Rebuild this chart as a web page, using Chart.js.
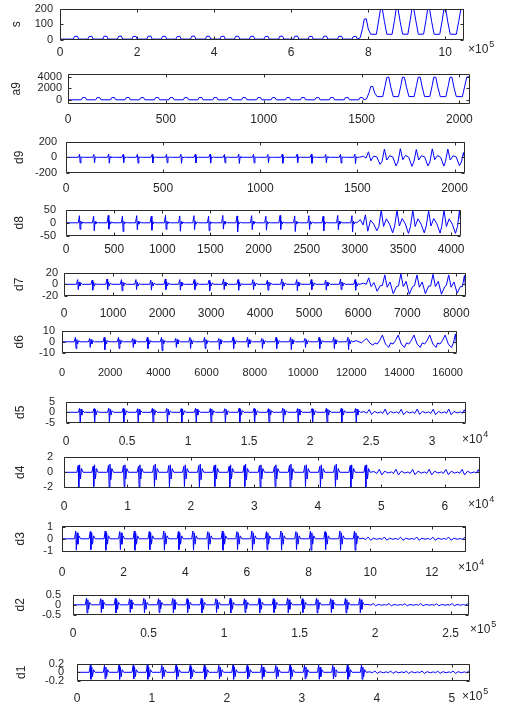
<!DOCTYPE html>
<html><head><meta charset="utf-8">
<script src="https://cdn.jsdelivr.net/npm/chart.js@4.4.1/dist/chart.umd.min.js"></script>
<style>
html,body{margin:0;padding:0;background:#fff;width:506px;height:711px;overflow:hidden}
#wrap{position:relative;width:506px;height:711px}
canvas{position:absolute;left:0}
</style></head><body><div id="wrap"></div>
<script>
// ---------- DATA (normalised time of key points) ----------
const tApprox = [0,
0.033,0.036,0.043,0.046, 0.069,0.072,0.079,0.082, 0.106,0.109,0.116,0.119, 0.142,0.145,0.152,0.155,
0.178,0.181,0.188,0.191, 0.215,0.218,0.225,0.228, 0.251,0.254,0.261,0.264, 0.287,0.290,0.297,0.300,
0.323,0.326,0.333,0.336, 0.360,0.363,0.370,0.373, 0.396,0.399,0.406,0.409, 0.432,0.435,0.442,0.445,
0.469,0.472,0.479,0.482, 0.505,0.508,0.515,0.518, 0.541,0.544,0.551,0.554, 0.578,0.581,0.588,0.591,
0.614,0.617,0.624,0.627, 0.650,0.653,0.660,0.663, 0.687,0.690,0.697,0.700, 0.723,0.726,0.733,0.736,
0.743,0.749,0.753,0.758,0.763,0.769,
0.783,0.789,0.793,0.798,0.803,0.809,
0.822,0.828,0.832,0.837,0.842,0.848,
0.861,0.867,0.871,0.876,0.881,0.887,
0.900,0.906,0.910,0.915,0.920,0.926,
0.940,0.946,0.950,0.955,0.960,0.966,
0.981,0.987,0.992,1.0];

const sY = [3,
3,21,22,3, 3,20,22,3, 3,22,21,3, 3,21,23,3, 3,20,21,3, 3,22,22,3, 3,21,22,3, 3,20,21,3,
3,22,23,3, 3,21,22,3, 3,20,22,3, 3,22,21,3, 3,21,22,3, 3,20,21,3, 3,22,22,3, 3,21,23,3,
3,20,21,3, 3,22,22,3, 3,21,22,3, 3,20,21,3,
12,75,135,138,70,35,
35,130,198,200,120,35,
35,128,200,199,118,36,
35,132,199,200,122,35,
36,130,200,198,118,35,
35,126,196,198,115,35,
35,120,198,200];

const a9Y = [60,
60,430,440,60, 60,420,440,60, 60,440,430,60, 60,430,450,60, 60,420,430,60, 60,440,440,60, 60,430,440,60, 60,420,430,60,
60,440,450,60, 60,430,440,60, 60,420,440,60, 60,440,430,60, 60,430,440,60, 60,420,430,60, 60,440,440,60, 60,430,450,60,
60,420,430,60, 60,440,440,60, 60,430,440,60, 60,420,430,60,
250,1300,2300,2350,1200,600,
600,2500,3850,3900,2200,600,
600,2450,3900,3850,2200,620,
600,2500,3880,3900,2250,600,
620,2480,3900,3870,2200,600,
600,2450,3850,3900,2200,600,
600,2400,3900,4000];

const tDetail = [0,
0.031,0.034,0.0355,0.0375,0.0395,0.042,0.046,
0.067,0.070,0.0715,0.0735,0.0755,0.078,0.082,
0.104,0.107,0.1085,0.1105,0.1125,0.115,0.119,
0.140,0.143,0.1445,0.1465,0.1485,0.151,0.155,
0.176,0.179,0.1805,0.1825,0.1845,0.187,0.191,
0.213,0.216,0.2175,0.2195,0.2215,0.224,0.228,
0.249,0.252,0.2535,0.2555,0.2575,0.260,0.264,
0.285,0.288,0.2895,0.2915,0.2935,0.296,0.300,
0.321,0.324,0.3255,0.3275,0.3295,0.332,0.336,
0.358,0.361,0.3625,0.3645,0.3665,0.369,0.373,
0.394,0.397,0.3985,0.4005,0.4025,0.405,0.409,
0.430,0.433,0.4345,0.4365,0.4385,0.441,0.445,
0.467,0.470,0.4715,0.4735,0.4755,0.478,0.482,
0.503,0.506,0.5075,0.5095,0.5115,0.514,0.518,
0.539,0.542,0.5435,0.5455,0.5475,0.550,0.554,
0.576,0.579,0.5805,0.5825,0.5845,0.587,0.591,
0.612,0.615,0.6165,0.6185,0.6205,0.623,0.627,
0.648,0.651,0.6525,0.6545,0.6565,0.659,0.663,
0.685,0.688,0.6895,0.6915,0.6935,0.696,0.700,
0.721,0.724,0.7255,0.7275,0.7295,0.732,0.736,
0.745,
0.752,0.758,0.764,0.771,0.779,0.787,
0.792,0.798,0.804,0.811,0.819,0.827,
0.832,0.838,0.844,0.851,0.859,0.867,
0.872,0.878,0.884,0.891,0.899,0.907,
0.912,0.918,0.924,0.931,0.939,0.947,
0.951,0.957,0.963,0.970,0.978,0.986,
0.991,0.996,1.0];

const d9Y = [0,
0,38,-72,8,-6,3,0, 0,36,-70,7,-5,3,0, 0,40,-75,8,-6,3,0, 0,35,-68,7,-5,2,0, 0,38,-74,8,-6,3,0,
0,37,-72,8,-5,3,0, 0,36,-70,7,-6,3,0, 0,39,-76,8,-6,3,0, 0,37,-71,7,-5,2,0, 0,38,-74,8,-6,3,0,
0,36,-70,7,-5,3,0, 0,40,-78,8,-6,3,0, 0,37,-72,8,-5,3,0, 0,36,-69,7,-6,2,0, 0,38,-75,8,-6,3,0,
0,37,-72,7,-5,3,0, 0,39,-76,8,-6,3,0, 0,36,-70,7,-5,3,0, 0,38,-73,8,-6,3,0, 0,40,-80,9,-7,3,0,
15,
-10,70,-45,15,5,-90,
-55,105,-35,20,5,-110,
-60,110,-30,25,0,-115,
-55,100,-35,20,5,-110,
-60,108,-30,22,0,-112,
-55,104,-35,20,5,-108,
-60,60,-40];

const d8Y = [0,
0,27,-25,6,-5,3,0, 0,25,-30,5,-4,2,0, 0,28,-24,6,-5,3,0, 0,26,-33,5,-4,2,0, 0,27,-26,6,-5,3,0,
0,25,-28,5,-4,2,0, 0,28,-25,6,-5,3,0, 0,26,-32,5,-4,2,0, 0,27,-26,6,-5,3,0, 0,25,-30,5,-4,2,0,
0,28,-24,6,-5,3,0, 0,26,-34,5,-4,2,0, 0,27,-26,6,-5,3,0, 0,25,-28,5,-4,2,0, 0,28,-25,6,-5,3,0,
0,26,-33,5,-4,2,0, 0,27,-26,6,-5,3,0, 0,25,-30,5,-4,2,0, 0,28,-26,6,-5,3,0, 0,27,-35,6,-5,3,0,
12,
-8,30,-32,10,-5,-30,
-15,48,-14,15,-5,-38,
-12,47,-12,16,-4,-40,
-15,49,-14,15,-5,-38,
-12,46,-12,16,-4,-39,
-15,48,-14,15,-5,-40,
-15,45,-10];

const d7Y = [0,
0,8,-9,4,-3,2,0, 0,7,-10,4,-3,1,0, 0,9,-9,4,-3,2,0, 0,8,-11,4,-3,2,0, 0,8,-9,4,-3,1,0,
0,7,-10,4,-3,2,0, 0,9,-9,4,-3,2,0, 0,8,-10,4,-3,1,0, 0,8,-9,4,-3,2,0, 0,7,-11,4,-3,2,0,
0,9,-9,4,-3,2,0, 0,8,-10,4,-3,1,0, 0,8,-9,4,-3,2,0, 0,7,-10,4,-3,2,0, 0,9,-9,4,-3,2,0,
0,8,-11,4,-3,1,0, 0,8,-9,4,-3,2,0, 0,7,-10,4,-3,2,0, 0,9,-9,4,-3,2,0, 0,8,-10,4,-3,1,0,
2,
0,11,-4,3,-12,-2,
-2,16,-5,4,-16,-4,
-3,18,-4,5,-17,-4,
-2,16,-5,4,-16,-3,
-3,17,-4,5,-17,-4,
-2,16,-5,4,-15,-4,
-4,15,-14];

const d6Y = [0,
0,4,-6,2,-2,1,0, 0,3,-5,2,-2,1,0, 0,4,-7,2,-2,1,0, 0,4,-6,2,-2,1,0, 0,3,-5,2,-2,1,0,
0,4,-6,2,-2,1,0, 0,4,-8,2,-2,1,0, 0,3,-5,2,-2,1,0, 0,4,-6,2,-2,1,0, 0,4,-6,2,-2,1,0,
0,3,-7,2,-2,1,0, 0,4,-6,2,-2,1,0, 0,4,-5,2,-2,1,0, 0,3,-6,2,-2,1,0, 0,4,-6,2,-2,1,0,
0,4,-7,2,-2,1,0, 0,3,-5,2,-2,1,0, 0,4,-6,2,-2,1,0, 0,4,-6,2,-2,1,0, 0,4,-7,2,-2,1,0,
1,
0,-1,1,3,-1,-3,
-1,-2,1,6,-2,-5,
-1,-2,1,6,-2,-5,
-1,-2,1,6,-2,-5,
-1,-2,1,6,-2,-5,
-1,-2,1,6,-2,-5,
-1,7,-8];

const d5Y = [0,
0,1.8,-5,1.5,-1.3,0.7,0, 0,1.7,-4.8,1.4,-1.2,0.7,0, 0,1.9,-5,1.5,-1.3,0.8,0, 0,1.8,-4.9,1.5,-1.3,0.7,0, 0,1.7,-5,1.4,-1.2,0.7,0,
0,1.9,-4.8,1.5,-1.3,0.8,0, 0,1.8,-5,1.5,-1.3,0.7,0, 0,1.7,-4.9,1.4,-1.2,0.7,0, 0,1.9,-5,1.5,-1.3,0.8,0, 0,1.8,-4.8,1.5,-1.3,0.7,0,
0,1.7,-5,1.4,-1.2,0.7,0, 0,1.9,-4.9,1.5,-1.3,0.8,0, 0,1.8,-5,1.5,-1.3,0.7,0, 0,1.7,-4.8,1.4,-1.2,0.7,0, 0,1.9,-5,1.5,-1.3,0.8,0,
0,1.8,-4.9,1.5,-1.3,0.7,0, 0,1.7,-5,1.4,-1.2,0.7,0, 0,1.9,-4.8,1.5,-1.3,0.8,0, 0,1.8,-5,1.5,-1.3,0.7,0, 0,1.8,-5,1.5,-1.3,0.7,0,
0.3,
-0.4,1.3,-1,0.4,-0.3,0.2,
-0.5,1.5,-1.1,0.4,-0.3,0.2,
-0.5,1.4,-1.1,0.4,-0.3,0.2,
-0.5,1.5,-1.0,0.4,-0.3,0.2,
-0.5,1.4,-1.1,0.4,-0.3,0.2,
-0.5,1.5,-1.1,0.4,-0.3,0.2,
-0.4,1.2,-0.8];

const d4Y = [0,
0,0.9,-2,1,-0.9,0.5,0, 0,0.8,-1.9,1,-0.9,0.5,0, 0,0.9,-2,1.1,-1,0.5,0, 0,0.9,-1.9,1,-0.9,0.5,0, 0,0.8,-2,1,-0.9,0.5,0,
0,0.9,-1.9,1.1,-1,0.5,0, 0,0.9,-2,1,-0.9,0.5,0, 0,0.8,-1.9,1,-0.9,0.5,0, 0,0.9,-2,1.1,-1,0.5,0, 0,0.9,-1.9,1,-0.9,0.5,0,
0,0.8,-2,1,-0.9,0.5,0, 0,0.9,-1.9,1.1,-1,0.5,0, 0,0.9,-2,1,-0.9,0.5,0, 0,0.8,-1.9,1,-0.9,0.5,0, 0,0.9,-2,1.1,-1,0.5,0,
0,0.9,-1.9,1,-0.9,0.5,0, 0,0.8,-2,1,-0.9,0.5,0, 0,0.9,-1.9,1.1,-1,0.5,0, 0,0.9,-2,1,-0.9,0.5,0, 0,0.9,-2,1,-0.9,0.5,0,
0.1,
-0.15,0.4,-0.35,0.15,-0.1,0.05,
-0.15,0.4,-0.35,0.15,-0.1,0.05,
-0.15,0.38,-0.33,0.15,-0.1,0.05,
-0.15,0.4,-0.35,0.15,-0.1,0.05,
-0.15,0.38,-0.33,0.15,-0.1,0.05,
-0.15,0.4,-0.35,0.15,-0.1,0.05,
-0.1,0.35,-0.2];

const d3Y = [0,
0,0.65,-0.95,0.5,-0.45,0.25,0, 0,0.6,-0.9,0.5,-0.45,0.25,0, 0,0.65,-0.95,0.5,-0.45,0.25,0, 0,0.6,-0.9,0.5,-0.45,0.25,0, 0,0.65,-0.95,0.5,-0.45,0.25,0,
0,0.6,-0.9,0.5,-0.45,0.25,0, 0,0.65,-0.95,0.5,-0.45,0.25,0, 0,0.6,-0.9,0.5,-0.45,0.25,0, 0,0.65,-0.95,0.5,-0.45,0.25,0, 0,0.6,-0.9,0.5,-0.45,0.25,0,
0,0.65,-0.95,0.5,-0.45,0.25,0, 0,0.6,-0.9,0.5,-0.45,0.25,0, 0,0.65,-0.95,0.5,-0.45,0.25,0, 0,0.6,-0.9,0.5,-0.45,0.25,0, 0,0.65,-0.95,0.5,-0.45,0.25,0,
0,0.6,-0.9,0.5,-0.45,0.25,0, 0,0.65,-0.95,0.5,-0.45,0.25,0, 0,0.6,-0.9,0.5,-0.45,0.25,0, 0,0.65,-0.95,0.5,-0.45,0.25,0, 0,0.65,-0.95,0.5,-0.45,0.25,0,
0.05,
-0.06,0.15,-0.12,0.05,-0.04,0.03,
-0.06,0.15,-0.12,0.05,-0.04,0.03,
-0.06,0.14,-0.12,0.05,-0.04,0.03,
-0.06,0.15,-0.12,0.05,-0.04,0.03,
-0.06,0.14,-0.12,0.05,-0.04,0.03,
-0.06,0.15,-0.12,0.05,-0.04,0.03,
-0.05,0.12,-0.08];

const d2Y = [0,
0,0.32,-0.4,0.25,-0.22,0.12,0, 0,0.3,-0.38,0.24,-0.2,0.12,0, 0,0.32,-0.4,0.25,-0.22,0.12,0, 0,0.3,-0.38,0.24,-0.2,0.12,0, 0,0.32,-0.4,0.25,-0.22,0.12,0,
0,0.3,-0.38,0.24,-0.2,0.12,0, 0,0.32,-0.4,0.25,-0.22,0.12,0, 0,0.3,-0.38,0.24,-0.2,0.12,0, 0,0.32,-0.4,0.25,-0.22,0.12,0, 0,0.3,-0.38,0.24,-0.2,0.12,0,
0,0.32,-0.4,0.25,-0.22,0.12,0, 0,0.3,-0.38,0.24,-0.2,0.12,0, 0,0.32,-0.4,0.25,-0.22,0.12,0, 0,0.3,-0.38,0.24,-0.2,0.12,0, 0,0.32,-0.4,0.25,-0.22,0.12,0,
0,0.3,-0.38,0.24,-0.2,0.12,0, 0,0.32,-0.4,0.25,-0.22,0.12,0, 0,0.3,-0.38,0.24,-0.2,0.12,0, 0,0.32,-0.4,0.25,-0.22,0.12,0, 0,0.32,-0.4,0.25,-0.22,0.12,0,
0.02,
-0.02,0.06,-0.05,0.02,-0.02,0.01,
-0.02,0.06,-0.05,0.02,-0.02,0.01,
-0.02,0.05,-0.05,0.02,-0.02,0.01,
-0.02,0.06,-0.05,0.02,-0.02,0.01,
-0.02,0.05,-0.05,0.02,-0.02,0.01,
-0.02,0.06,-0.05,0.02,-0.02,0.01,
-0.02,0.05,-0.03];

const d1Y = [0,
0,0.17,-0.16,0.12,-0.1,0.06,0, 0,0.16,-0.15,0.12,-0.1,0.06,0, 0,0.17,-0.16,0.12,-0.1,0.06,0, 0,0.16,-0.15,0.12,-0.1,0.06,0, 0,0.17,-0.16,0.12,-0.1,0.06,0,
0,0.16,-0.15,0.12,-0.1,0.06,0, 0,0.17,-0.16,0.12,-0.1,0.06,0, 0,0.16,-0.15,0.12,-0.1,0.06,0, 0,0.17,-0.16,0.12,-0.1,0.06,0, 0,0.16,-0.15,0.12,-0.1,0.06,0,
0,0.17,-0.16,0.12,-0.1,0.06,0, 0,0.16,-0.15,0.12,-0.1,0.06,0, 0,0.17,-0.16,0.12,-0.1,0.06,0, 0,0.16,-0.15,0.12,-0.1,0.06,0, 0,0.17,-0.16,0.12,-0.1,0.06,0,
0,0.16,-0.15,0.12,-0.1,0.06,0, 0,0.17,-0.16,0.12,-0.1,0.06,0, 0,0.16,-0.15,0.12,-0.1,0.06,0, 0,0.17,-0.16,0.12,-0.1,0.06,0, 0,0.17,-0.16,0.12,-0.1,0.06,0,
0.01,
-0.01,0.03,-0.025,0.015,-0.01,0.01,
-0.01,0.03,-0.025,0.015,-0.01,0.01,
-0.01,0.025,-0.025,0.015,-0.01,0.01,
-0.01,0.03,-0.025,0.015,-0.01,0.01,
-0.01,0.025,-0.025,0.015,-0.01,0.01,
-0.01,0.03,-0.025,0.015,-0.01,0.01,
-0.01,0.025,-0.01];

// signal lengths (x-axis extent, in the displayed units)
const lengths = {s:10.486, a9:2054, d9:2054, d8:4102, d7:8198, d6:16390, d5:3.2774, d4:6.554, d3:13.108, d2:2.6215, d1:5.243};

// tick values
const xTicksS  = [0,2,4,6,8,10];
const xTicks2k = [0,500,1000,1500,2000];
const xTicks4k = [0,500,1000,1500,2000,2500,3000,3500,4000];
const xTicks8k = [0,1000,2000,3000,4000,5000,6000,7000,8000];
const xTicks16k= [0,2000,4000,6000,8000,10000,12000,14000,16000];
const xTicksD5 = [0,0.5,1,1.5,2,2.5,3];
const xTicksD4 = [0,1,2,3,4,5,6];
const xTicksD3 = [0,2,4,6,8,10,12];
const xTicksD2 = [0,0.5,1,1.5,2,2.5];
const xTicksD1 = [0,1,2,3,4,5];
const yTicksS  = [0,100,200];
const yTicksA9 = [0,2000,4000];
const yTicksD9 = [-200,0,200];
const yTicksD8 = [-50,0,50];
const yTicksD7 = [-20,0,20];
const yTicksD6 = [-10,0,10];
const yTicksD5 = [-5,0,5];
const yTicksD4 = [-2,0,2];
const yTicksD3 = [-1,0,1];
const yTicksD2 = [-0.5,0,0.5];
const yTicksD1 = [-0.2,0,0.2];

// ---------- LAYOUT ----------
const FONT = "'Liberation Sans', Arial, Helvetica, sans-serif";
Chart.defaults.font.family = FONT;
Chart.defaults.color = '#262626';

const panels = [
 {lab:'s',  t:tApprox, y:sY,  len:lengths.s,  xt:xTicksS,  yt:yTicksS,  ymin:-3,   ymax:205,  L:60,R:464,T:7,  B:40,  xpad:5, ypad:7, ylx:17, exp:'5', ex:468, ey:50},
 {lab:'a9', t:tApprox, y:a9Y, len:lengths.a9, xt:xTicks2k, yt:yTicksA9, ymin:-650, ymax:4500, L:68,R:470,T:73, B:104, xpad:8, ypad:6, ylx:17},
 {lab:'d9', t:tDetail, y:d9Y, len:lengths.d9, xt:xTicks2k, yt:yTicksD9, ymin:-200, ymax:200,  L:66,R:465,T:138,B:173, xpad:8, ypad:9, ylx:20},
 {lab:'d8', t:tDetail, y:d8Y, len:lengths.d8, xt:xTicks4k, yt:yTicksD8, ymin:-50,  ymax:50,   L:66,R:461,T:205,B:236, xpad:6, ypad:10,ylx:20},
 {lab:'d7', t:tDetail, y:d7Y, len:lengths.d7, xt:xTicks8k, yt:yTicksD7, ymin:-20,  ymax:20,   L:64,R:466,T:272,B:296, xpad:10,ypad:6, ylx:20},
 {lab:'d6', t:tDetail, y:d6Y, len:lengths.d6, xt:xTicks16k,yt:yTicksD6, ymin:-10,  ymax:10,   L:62,R:457,T:329,B:353, xpad:13,ypad:7, ylx:20, xfs:11},
 {lab:'d5', t:tDetail, y:d5Y, len:lengths.d5, xt:xTicksD5, yt:yTicksD5, ymin:-5,   ymax:5,    L:66,R:466,T:396,B:423, xpad:11,ypad:11,ylx:21, exp:'4', ex:462, ey:440},
 {lab:'d4', t:tDetail, y:d4Y, len:lengths.d4, xt:xTicksD4, yt:yTicksD4, ymin:-2.1, ymax:2.1,  L:64,R:480,T:451,B:488, xpad:11,ypad:11,ylx:21, exp:'4', ex:468, ey:505},
 {lab:'d3', t:tDetail, y:d3Y, len:lengths.d3, xt:xTicksD3, yt:yTicksD3, ymin:-1.1, ymax:1.1,  L:62,R:466,T:522,B:552, xpad:13,ypad:9, ylx:21, exp:'4', ex:458, ey:568},
 {lab:'d2', t:tDetail, y:d2Y, len:lengths.d2, xt:xTicksD2, yt:yTicksD2, ymin:-0.5, ymax:0.5,  L:73,R:469,T:588,B:615, xpad:11,ypad:12,ylx:21, exp:'5', ex:470, ey:630},
 {lab:'d1', t:tDetail, y:d1Y, len:lengths.d1, xt:xTicksD1, yt:yTicksD1, ymin:-0.2, ymax:0.2,  L:77,R:470,T:656,B:681, xpad:10,ypad:13,ylx:22, exp:'5', ex:462, ey:697}
];

const boxPlugin = {
  id: 'mbox',
  afterDraw(chart, args, o) {
    const ctx = chart.ctx, a = chart.chartArea;
    const l = Math.round(a.left) + 0.5, r = Math.round(a.right) - 0.5;
    const t = Math.round(a.top) + 0.5, b = Math.round(a.bottom) - 0.5;
    ctx.save();
    ctx.strokeStyle = '#2b2b2b'; ctx.lineWidth = 1;
    ctx.beginPath();
    ctx.rect(l, t, r - l, b - t);
    const xs = chart.scales.x, ys = chart.scales.y, k = 3;
    xs.ticks.forEach(tk => { const p = Math.round(xs.getPixelForValue(tk.value)) + 0.5;
      ctx.moveTo(p, t); ctx.lineTo(p, t + k); ctx.moveTo(p, b); ctx.lineTo(p, b - k); });
    ys.ticks.forEach(tk => { const p = Math.round(ys.getPixelForValue(tk.value)) + 0.5;
      ctx.moveTo(l, p); ctx.lineTo(l + k, p); ctx.moveTo(r, p); ctx.lineTo(r - k, p); });
    ctx.stroke();
    if (o && o.exp) {
      ctx.fillStyle = '#262626'; ctx.textBaseline = 'middle'; ctx.textAlign = 'left';
      ctx.font = '12px ' + FONT;
      ctx.fillText('\u00d710', o.ex, o.ey);
      const w = ctx.measureText('\u00d710').width;
      ctx.font = '9px ' + FONT;
      ctx.fillText(o.exp, o.ex + w + 1, o.ey - 5);
    }
    ctx.restore();
  }
};

const wrap = document.getElementById('wrap');
panels.forEach(p => {
  const PADT = 12, XH = 32;
  const top = p.T - PADT, h = (p.B - p.T) + PADT + XH;
  const c = document.createElement('canvas');
  c.width = 506; c.height = h;
  c.style.top = top + 'px'; c.style.width = '506px'; c.style.height = h + 'px';
  wrap.appendChild(c);
  const pts = p.t.map((tt, i) => ({x: tt * p.len, y: p.y[i]}));
  new Chart(c, {
    type: 'line',
    data: { datasets: [{ data: pts, borderColor: 'rgb(0,0,255)', borderWidth: 1, pointRadius: 0,
      tension: 0, fill: false, borderJoinStyle: 'round' }] },
    options: {
      responsive: false, animation: false, devicePixelRatio: 1, events: [],
      layout: { padding: { left: 0, right: 506 - p.R, top: PADT, bottom: 0 } },
      plugins: { legend: {display: false}, tooltip: {enabled: false},
        mbox: p.exp ? {exp: p.exp, ex: p.ex, ey: p.ey - top} : {} },
      scales: {
        x: { type: 'linear', min: 0, max: p.len,
          grid: {display: false, drawTicks: false}, border: {display: false},
          afterBuildTicks: s => { s.ticks = p.xt.map(v => ({value: v})); },
          afterFit: s => { s.height = XH; },
          ticks: { autoSkip: false, maxRotation: 0, minRotation: 0, padding: p.xpad,
            font: {size: p.xfs || 12}, color: '#262626', callback: v => String(v) } },
        y: { type: 'linear', min: p.ymin, max: p.ymax,
          grid: {display: false, drawTicks: false}, border: {display: false},
          afterBuildTicks: s => { s.ticks = p.yt.map(v => ({value: v})); },
          afterFit: s => { s.width = p.L; },
          ticks: { autoSkip: false, padding: p.ypad, font: {size: 11}, color: '#262626', callback: v => String(v) },
          title: { display: true, text: p.lab, color: '#262626', font: {size: 12},
            padding: {top: p.ylx - 7.2, bottom: 0} } }
      }
    },
    plugins: [boxPlugin]
  });
});
</script></body></html>
